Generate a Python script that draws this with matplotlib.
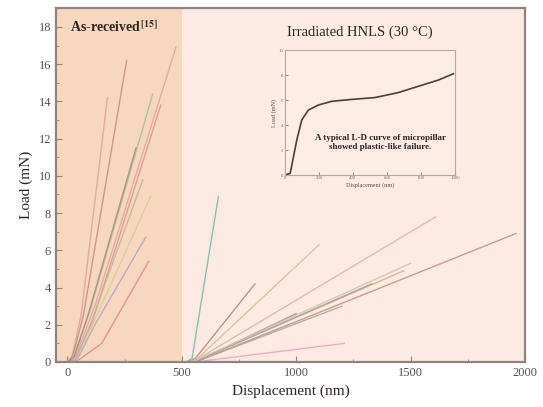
import numpy as np
import matplotlib
matplotlib.use("Agg")
from matplotlib import pyplot as plt
from matplotlib.ticker import MultipleLocator

plt.rcParams['font.family'] = ['Liberation Serif', 'DejaVu Serif']
plt.rcParams['mathtext.fontset'] = 'stix'

# as-received pillars (displacement nm, load mN)
ar_x = [
    [0, 20, 60, 175],
    [5, 25, 70, 259],
    [10, 35, 120, 474],
    [15, 40, 110, 408],
    [10, 30, 100, 373],
    [20, 45, 110, 364],
    [25, 50, 120, 342],
    [30, 60, 150, 355],
    [5, 30, 90, 300],
    [15, 40, 100, 330],
]
ar_y = [
    [0, 0.3, 2.5, 14.2],
    [0, 0.4, 2.5, 16.2],
    [0, 0.3, 3.0, 16.9],
    [0, 0.3, 2.2, 13.8],
    [0, 0.4, 2.8, 14.4],
    [0, 0.3, 2.0, 8.9],
    [0, 0.3, 2.0, 6.7],
    [0, 0.2, 1.0, 5.4],
    [0, 0.3, 2.5, 11.5],
    [0, 0.3, 2.0, 9.8],
]
ar_colors = ['#e0a4a4', '#c98f7f', '#e7a3a8', '#d99a8c', '#9fc3a3',
             '#cfd09a', '#b8a3c8', '#e08c8c', '#b08a80', '#c7b39a']

# irradiated HNLS pillars
ir_x = [
    [520, 545, 660],
    [530, 560, 820],
    [540, 570, 1100],
    [545, 575, 1610],
    [550, 580, 1960],
    [540, 570, 1470],
    [540, 570, 1330],
    [550, 580, 1200],
    [560, 590, 1210],
    [545, 575, 1000],
    [535, 565, 1500],
]
ir_y = [
    [0, 0.2, 8.9],
    [0, 0.2, 4.2],
    [0, 0.2, 6.3],
    [0, 0.2, 7.8],
    [0, 0.1, 6.9],
    [0, 0.1, 4.9],
    [0, 0.1, 4.2],
    [0, 0.1, 3.0],
    [0, 0.05, 1.0],
    [0, 0.1, 2.6],
    [0, 0.1, 5.3],
]
ir_colors = ['#7fb8b0', '#b98a7a', '#d8bf9c', '#d9b8a8', '#c99088',
             '#cdb38f', '#a9a39c', '#a7ab96', '#eaa7c4', '#9e9a94', '#d6c2b0']

# typical L-D curve of one micropillar
inset_x = [0, 30, 69, 98, 137, 196, 275, 392, 530, 667, 784, 902, 990]
inset_y = [0, 0.13, 2.8, 4.4, 5.2, 5.6, 5.9, 6.05, 6.2, 6.6, 7.1, 7.6, 8.1]

spine_col = '#8c8480'
text_col = '#2b2523'

fig = plt.figure(figsize=(5.43, 4.07), dpi=100)
ax = fig.add_axes([0.103, 0.1106, 0.864, 0.869])
ax.set_facecolor('#fdebe2')
ax.axvspan(-50, 500, color='#f7d8bf', zorder=0, lw=0)

for xs, ys, c in zip(ar_x, ar_y, ar_colors):
    ax.plot(xs, ys, color=c, lw=1.0, alpha=0.9)
for xs, ys, c in zip(ir_x, ir_y, ir_colors):
    ax.plot(xs, ys, color=c, lw=1.0, alpha=0.9)

ax.set_xlim(-50, 2000)
ax.set_ylim(0, 19)
ax.xaxis.set_major_locator(MultipleLocator(500))
ax.xaxis.set_minor_locator(MultipleLocator(250))
ax.yaxis.set_major_locator(MultipleLocator(2))
ax.yaxis.set_minor_locator(MultipleLocator(1))
ax.tick_params(which='both', direction='in', colors=spine_col, labelcolor='#555050',
               labelsize=9)
ax.tick_params(which='major', length=4)
ax.tick_params(which='minor', length=2)
for s in ax.spines.values():
    s.set_color(spine_col)
    s.set_linewidth(1.6)
ax.set_xlabel('Displacement (nm)', fontsize=11, color=text_col)
ax.set_ylabel('Load (mN)', fontsize=11, color=text_col)

ax.text(13, 18.0, r'As-received$^{\,\mathbf{[15]}}$', fontsize=10, fontweight='bold',
        color=text_col, va='center', ha='left')
ax.text(960, 17.7, 'Irradiated HNLS (30 °C)', fontsize=10.5, color=text_col,
        va='center', ha='left')

# inset
ins = fig.add_axes([0.525, 0.570, 0.313, 0.307])
ins.set_facecolor('#fdece4')
ins.plot(inset_x, inset_y, color='#4a3e3a', lw=1.2)
ins.set_xlim(0, 1000)
ins.set_ylim(0, 10)
ins.xaxis.set_major_locator(MultipleLocator(200))
ins.yaxis.set_major_locator(MultipleLocator(2))
ins.tick_params(direction='in', length=2, labelsize=3.5, colors='#9a9090',
                labelcolor='#777070', pad=1)
for s in ins.spines.values():
    s.set_color('#b0a8a5')
    s.set_linewidth(0.8)
ins.set_xlabel('Displacement (nm)', fontsize=4.5, color='#555050', labelpad=1)
ins.set_ylabel('Load (mN)', fontsize=4.5, color='#555050', labelpad=1)
ins.text(560, 2.6, 'A typical L-D curve of micropillar\nshowed plastic-like failure.',
         fontsize=6.5, fontweight='bold', color='#2b2523', ha='center', va='center',
         linespacing=1.3)

fig.savefig('out.png', dpi=100)
